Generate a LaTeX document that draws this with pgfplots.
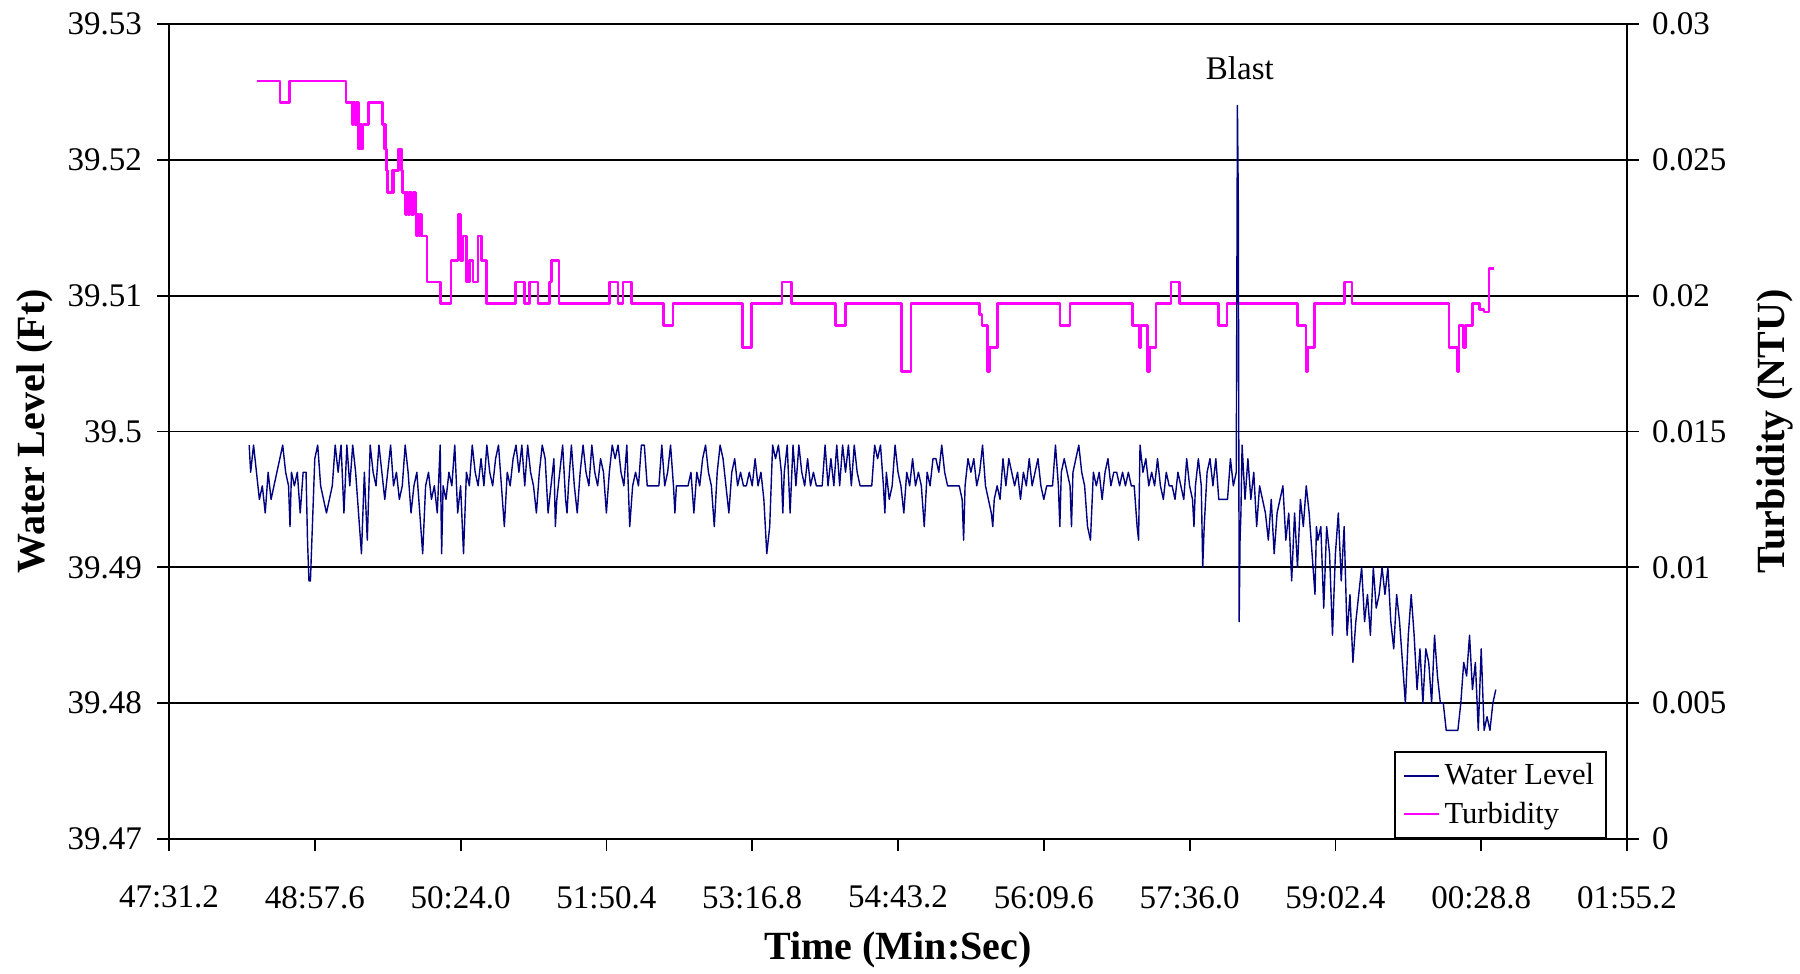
\documentclass[border=0pt]{standalone}
\usepackage{fontspec}
\setmainfont{Liberation Serif}
\usepackage{pgfplots}
\pgfplotsset{compat=1.18}
\definecolor{wlblue}{RGB}{0,0,128}
\definecolor{turb}{RGB}{255,0,255}

\newcommand{\tickfont}{\fontsize{16.5pt}{19pt}\selectfont}
\newcommand{\legfont}{\fontsize{15.3pt}{18pt}\selectfont}
\newcommand{\labfont}{\bfseries\fontsize{20pt}{24pt}\selectfont}

\pgfplotsset{
  common/.style={
    width=729pt, height=407.5pt, scale only axis, at={(0,0)},
    xmin=0, xmax=10,
    tick align=outside, major tick length=6pt,
    tick style={black, line width=0.9pt},
    axis line style={black, line width=0.9pt},
    ticklabel style={font=\tickfont},
    /pgf/number format/assume math mode=true,
  },
}

\begin{document}
\begin{tikzpicture}
\useasboundingbox (-84.5pt,-67.5pt) rectangle (815.5pt,419.5pt);

% turbidity, right axis, gridlines and time axis
\begin{axis}[common,
  ymin=0, ymax=0.03,
  axis y line*=right, axis x line*=bottom,
  xtick={0,1,2,3,4,5,6,7,8,9,10},
  xticklabels={47:31.2,48:57.6,50:24.0,51:50.4,53:16.8,54:43.2,56:09.6,57:36.0,59:02.4,00:28.8,01:55.2},
  ytick={0,0.005,0.01,0.015,0.02,0.025,0.03},
  yticklabels={0,0.005,0.01,0.015,0.02,0.025,0.03},
  xticklabel style={yshift=-14pt},
  yticklabel style={xshift=3pt},
  ymajorgrids, grid style={black, line width=0.9pt},
  xlabel={Time (Min:Sec)}, ylabel={Turbidity (NTU)},
  every axis x label/.style={at={(axis description cs:0.5,-0.136)}, anchor=center, font=\labfont},
  every axis y label/.style={at={(axis description cs:1.1014,0.5)}, rotate=90, anchor=center, font=\labfont},
]
\addplot[const plot, turb, line width=1.35pt, line join=round] coordinates {
(0.601,0.0279) (0.761,0.0271) (0.825,0.0279) (1.213,0.0271) (1.259,0.0263) (1.266,0.0271)
(1.275,0.0263) (1.284,0.0271) (1.300,0.0254) (1.312,0.0263) (1.322,0.0254) (1.330,0.0263)
(1.366,0.0271) (1.464,0.0263) (1.474,0.0254) (1.480,0.0263) (1.486,0.0254) (1.492,0.0246)
(1.500,0.0238) (1.530,0.0246) (1.536,0.0238) (1.542,0.0246) (1.572,0.0254) (1.595,0.0246)
(1.603,0.0238) (1.620,0.0230) (1.628,0.0238) (1.640,0.0230) (1.650,0.0238) (1.662,0.0230)
(1.675,0.0238) (1.690,0.0230) (1.697,0.0222) (1.705,0.0230) (1.715,0.0222) (1.722,0.0230)
(1.732,0.0222) (1.770,0.0205) (1.860,0.0197) (1.935,0.0213) (1.983,0.0230) (1.999,0.0213)
(2.017,0.0222) (2.040,0.0205) (2.063,0.0213) (2.086,0.0205) (2.120,0.0222) (2.143,0.0213)
(2.180,0.0197) (2.378,0.0205) (2.440,0.0197) (2.474,0.0205) (2.531,0.0197) (2.611,0.0205)
(2.625,0.0213) (2.675,0.0197) (3.022,0.0205) (3.080,0.0197) (3.114,0.0205) (3.171,0.0197)
(3.393,0.0189) (3.457,0.0197) (3.932,0.0181) (3.994,0.0197) (4.204,0.0205) (4.268,0.0197)
(4.572,0.0189) (4.640,0.0197) (5.022,0.0172) (5.090,0.0197) (5.559,0.0193) (5.577,0.0189)
(5.616,0.0172) (5.627,0.0181) (5.680,0.0197) (6.112,0.0189) (6.180,0.0197) (6.609,0.0189)
(6.655,0.0181) (6.667,0.0189) (6.712,0.0172) (6.724,0.0181) (6.770,0.0197) (6.872,0.0205)
(6.929,0.0197) (7.199,0.0189) (7.256,0.0197) (7.740,0.0189) (7.798,0.0172) (7.809,0.0181)
(7.855,0.0197) (8.060,0.0205) (8.113,0.0197) (8.780,0.0181) (8.837,0.0172) (8.848,0.0189)
(8.880,0.0181) (8.894,0.0189) (8.940,0.0197) (8.990,0.0195) (9.020,0.0194) (9.054,0.0210)
(9.088,0.0210)
};
\end{axis}

% water level, left axis
\begin{axis}[common,
  ymin=39.47, ymax=39.53,
  axis y line*=left, axis x line=none,
  ytick={39.47,39.48,39.49,39.5,39.51,39.52,39.53},
  yticklabels={39.47,39.48,39.49,39.5,39.51,39.52,39.53},
  yticklabel style={xshift=-4pt},
  ylabel={Water Level (Ft)},
  every axis y label/.style={at={(axis description cs:-0.0922,0.5)}, rotate=90, anchor=center, font=\labfont},
  legend style={at={(rel axis cs:0.9863,0)}, anchor=south east, draw=black,
    line width=0.9pt, fill=white, font=\legfont, inner xsep=4pt, inner ysep=4pt,
    row sep=3pt, cells={anchor=west}},
  legend image code/.code={\draw[#1, line width=1.2pt] (0cm,0cm) -- (0.62cm,0cm);},
]
\addplot[wlblue, line width=0.7pt, line join=round] coordinates {
(0.55,39.499) (0.56,39.497) (0.58,39.499) (0.60,39.497) (0.62,39.495) (0.64,39.496) (0.66,39.494)
(0.68,39.497) (0.70,39.495) (0.72,39.496) (0.74,39.497) (0.76,39.498) (0.78,39.499) (0.80,39.497)
(0.82,39.496) (0.83,39.493) (0.84,39.497) (0.86,39.496) (0.88,39.497) (0.90,39.494) (0.92,39.497)
(0.94,39.497) (0.95,39.492) (0.96,39.489) (0.97,39.489) (0.98,39.492) (0.99,39.495) (1.00,39.498)
(1.02,39.499) (1.04,39.496) (1.06,39.495) (1.08,39.494) (1.10,39.495) (1.12,39.496) (1.14,39.499)
(1.16,39.497) (1.18,39.499) (1.20,39.494) (1.22,39.499) (1.24,39.496) (1.26,39.499) (1.28,39.497)
(1.30,39.494) (1.32,39.491) (1.34,39.497) (1.36,39.492) (1.38,39.499) (1.40,39.497) (1.42,39.496)
(1.44,39.499) (1.46,39.497) (1.48,39.495) (1.50,39.497) (1.52,39.499) (1.54,39.496) (1.56,39.497)
(1.58,39.495) (1.60,39.496) (1.62,39.499) (1.64,39.497) (1.66,39.494) (1.68,39.496) (1.70,39.497)
(1.72,39.494) (1.74,39.491) (1.76,39.496) (1.78,39.497) (1.80,39.495) (1.82,39.496) (1.84,39.494)
(1.86,39.499) (1.87,39.491) (1.88,39.496) (1.90,39.495) (1.92,39.497) (1.94,39.496) (1.96,39.499)
(1.98,39.494) (2.00,39.496) (2.02,39.491) (2.04,39.497) (2.06,39.496) (2.08,39.499) (2.10,39.497)
(2.12,39.496) (2.14,39.498) (2.16,39.496) (2.18,39.499) (2.20,39.497) (2.22,39.496) (2.24,39.498)
(2.26,39.499) (2.28,39.496) (2.30,39.493)
(2.32,39.497) (2.34,39.496) (2.36,39.498) (2.38,39.499) (2.40,39.497) (2.42,39.499) (2.44,39.496)
(2.46,39.499) (2.48,39.497) (2.50,39.496) (2.52,39.494) (2.54,39.497) (2.56,39.499) (2.58,39.498)
(2.60,39.494) (2.62,39.496) (2.64,39.498) (2.65,39.493) (2.66,39.495) (2.68,39.497) (2.70,39.499)
(2.72,39.495) (2.73,39.494) (2.74,39.496) (2.76,39.499) (2.78,39.496) (2.80,39.494) (2.82,39.497)
(2.84,39.499) (2.86,39.497) (2.88,39.496) (2.90,39.499) (2.92,39.497) (2.94,39.496) (2.96,39.498)
(2.98,39.497) (3.00,39.494) (3.02,39.497) (3.04,39.499) (3.06,39.498) (3.08,39.499) (3.10,39.497)
(3.12,39.496) (3.14,39.499) (3.16,39.493) (3.18,39.496) (3.20,39.497) (3.22,39.496) (3.24,39.499)
(3.26,39.499) (3.28,39.496) (3.30,39.496) (3.32,39.496) (3.34,39.496) (3.36,39.496) (3.38,39.499)
(3.40,39.496) (3.42,39.497) (3.44,39.499) (3.46,39.496) (3.47,39.494) (3.48,39.496) (3.50,39.496)
(3.52,39.496) (3.54,39.496) (3.56,39.496) (3.58,39.497) (3.60,39.494) (3.62,39.497) (3.64,39.496)
(3.66,39.498) (3.68,39.499) (3.70,39.497) (3.72,39.496) (3.74,39.493) (3.76,39.497) (3.78,39.499)
(3.80,39.498) (3.82,39.496) (3.84,39.494) (3.86,39.497) (3.88,39.498) (3.90,39.496) (3.92,39.497)
(3.94,39.496) (3.96,39.496) (3.98,39.497) (4.00,39.496) (4.02,39.498) (4.04,39.496) (4.06,39.497)
(4.08,39.495) (4.10,39.491)
(4.12,39.493) (4.14,39.499) (4.16,39.498) (4.18,39.499) (4.20,39.497) (4.21,39.494) (4.22,39.497)
(4.24,39.499) (4.26,39.494) (4.28,39.499) (4.30,39.496) (4.32,39.499) (4.34,39.497) (4.36,39.496)
(4.38,39.498) (4.40,39.496) (4.42,39.497) (4.44,39.496) (4.46,39.496) (4.48,39.496) (4.50,39.499)
(4.52,39.496) (4.54,39.498) (4.56,39.496) (4.58,39.499) (4.60,39.496) (4.62,39.499) (4.64,39.497)
(4.66,39.499) (4.68,39.496) (4.70,39.499) (4.72,39.497) (4.74,39.496) (4.76,39.496) (4.78,39.496)
(4.80,39.496) (4.82,39.496) (4.84,39.499) (4.86,39.498) (4.88,39.499) (4.90,39.496) (4.91,39.494)
(4.92,39.497) (4.94,39.495) (4.96,39.496) (4.98,39.499) (5.00,39.497) (5.02,39.496) (5.04,39.494)
(5.06,39.497) (5.08,39.496) (5.10,39.498) (5.12,39.496) (5.14,39.497) (5.16,39.496) (5.18,39.493)
(5.20,39.497) (5.22,39.496) (5.24,39.498) (5.26,39.498) (5.28,39.497) (5.30,39.499) (5.32,39.497)
(5.34,39.496) (5.36,39.496) (5.38,39.496) (5.40,39.496) (5.42,39.496) (5.44,39.495) (5.45,39.492)
(5.46,39.496) (5.48,39.498) (5.50,39.497) (5.52,39.498) (5.54,39.496) (5.56,39.497) (5.58,39.499)
(5.60,39.496) (5.62,39.495) (5.64,39.494) (5.65,39.493) (5.66,39.495) (5.68,39.496) (5.70,39.495)
(5.72,39.498) (5.74,39.496) (5.76,39.498) (5.78,39.497) (5.80,39.496) (5.82,39.497) (5.84,39.495)
(5.86,39.497) (5.88,39.496) (5.90,39.498) (5.92,39.496) (5.94,39.497) (5.96,39.498) (5.98,39.496)
(6.00,39.495) (6.02,39.496) (6.04,39.496) (6.06,39.496) (6.08,39.499) (6.10,39.496) (6.11,39.493)
(6.12,39.497) (6.14,39.498) (6.16,39.497) (6.18,39.496) (6.19,39.493) (6.20,39.497) (6.22,39.498)
(6.24,39.499) (6.26,39.497) (6.28,39.496) (6.30,39.493) (6.32,39.492) (6.34,39.497) (6.36,39.496)
(6.38,39.497) (6.40,39.495) (6.42,39.497) (6.44,39.498) (6.46,39.496) (6.48,39.497) (6.50,39.497)
(6.52,39.496) (6.54,39.497) (6.56,39.496) (6.58,39.497) (6.60,39.496) (6.62,39.496) (6.64,39.493)
(6.65,39.492) (6.66,39.499) (6.68,39.497) (6.70,39.498) (6.72,39.496) (6.74,39.497) (6.76,39.496)
(6.78,39.498) (6.80,39.496) (6.82,39.495) (6.84,39.497) (6.86,39.496) (6.88,39.496) (6.90,39.495)
(6.92,39.497) (6.94,39.496) (6.96,39.495) (6.98,39.498) (7.00,39.496) (7.02,39.495) (7.03,39.493)
(7.04,39.496) (7.06,39.498) (7.08,39.496) (7.09,39.490) (7.10,39.493) (7.12,39.497) (7.14,39.498)
(7.16,39.496) (7.18,39.498) (7.20,39.495) (7.22,39.495) (7.24,39.495) (7.26,39.495) (7.28,39.498)
(7.30,39.496) (7.32,39.497)
(7.328,39.524) (7.334,39.517) (7.340,39.486) (7.346,39.492) (7.352,39.494) (7.36,39.499)
(7.37,39.497) (7.38,39.495)
(7.40,39.498) (7.42,39.495) (7.44,39.497) (7.46,39.493) (7.48,39.496) (7.50,39.495) (7.52,39.494)
(7.54,39.492) (7.56,39.495) (7.58,39.491) (7.60,39.494) (7.62,39.495) (7.64,39.496) (7.66,39.492)
(7.68,39.494) (7.70,39.489) (7.72,39.494) (7.74,39.490) (7.76,39.495) (7.78,39.493) (7.80,39.496)
(7.82,39.494) (7.84,39.491) (7.86,39.488) (7.87,39.493) (7.88,39.492) (7.90,39.493) (7.92,39.487)
(7.94,39.493) (7.96,39.491) (7.98,39.485) (8.00,39.491) (8.02,39.494) (8.04,39.489) (8.06,39.493)
(8.08,39.485) (8.10,39.488) (8.12,39.483) (8.14,39.486) (8.16,39.488) (8.18,39.490) (8.20,39.486)
(8.22,39.488) (8.24,39.485) (8.26,39.490) (8.28,39.487) (8.30,39.488) (8.32,39.490) (8.34,39.488)
(8.36,39.490) (8.38,39.486) (8.40,39.484) (8.42,39.488) (8.44,39.486) (8.46,39.483) (8.48,39.480)
(8.50,39.485) (8.52,39.488) (8.54,39.485) (8.56,39.481) (8.58,39.484) (8.60,39.480) (8.62,39.484)
(8.64,39.483) (8.66,39.480) (8.68,39.485) (8.70,39.482) (8.72,39.480) (8.74,39.480) (8.76,39.478)
(8.78,39.478) (8.80,39.478) (8.82,39.478) (8.84,39.478) (8.86,39.480) (8.88,39.483) (8.90,39.482)
(8.92,39.485) (8.94,39.481) (8.96,39.483) (8.98,39.478) (9.00,39.484) (9.02,39.478) (9.04,39.479)
(9.06,39.478) (9.08,39.480) (9.10,39.481)
};
\addlegendentry{Water Level}
\addlegendimage{turb, line width=1.2pt}
\addlegendentry{Turbidity}
\node[anchor=base, font=\tickfont] at (axis cs:7.345,39.5259) {Blast};
\end{axis}
\end{tikzpicture}
\end{document}
